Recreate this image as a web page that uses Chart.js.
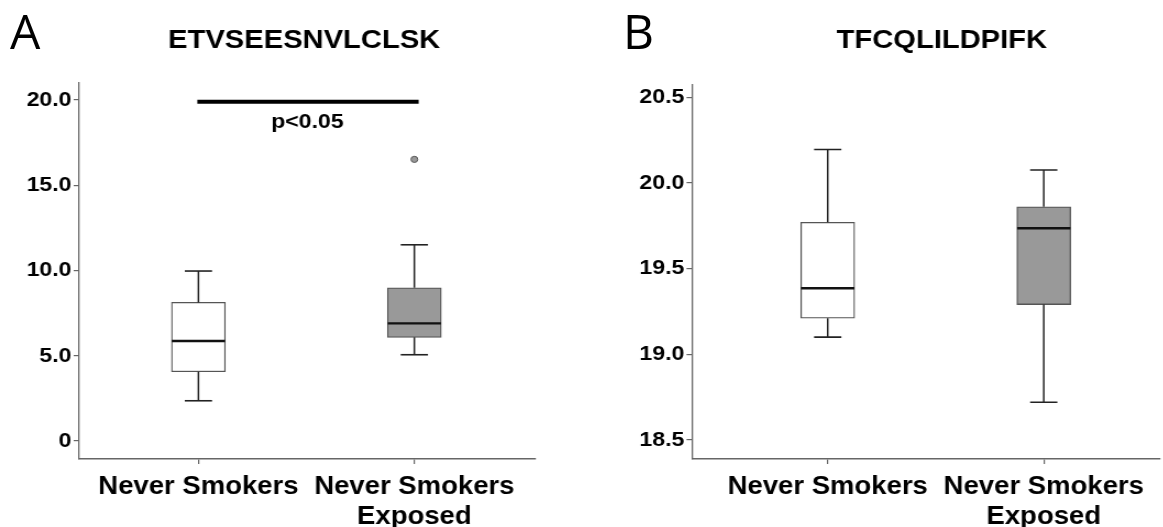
<!DOCTYPE html>
<html>
<head>
<meta charset="utf-8">
<script src="https://cdn.jsdelivr.net/npm/chart.js@4.4.1/dist/chart.umd.min.js"></script>
<style>
  html, body { margin: 0; padding: 0; background: #fff; width: 1163px; height: 527px; overflow: hidden; position: relative; }
  .panel { position: absolute; top: 0; transform-origin: 0 0; transform: scaleX(1.1); }
  .letter { position: absolute; font-family: 'Open Sans', 'Liberation Sans', sans-serif; font-size: 48px; line-height: 48px; color: #000; }
</style>
</head>
<body>
<canvas id="panelA" class="panel" width="553" height="527" style="left:0px"></canvas>
<canvas id="panelB" class="panel" width="567" height="527" style="left:630px"></canvas>
<div class="letter" style="left:10px; top:7px">A</div>
<div class="letter" style="left:623px; top:7px">B</div>
<script>
// Groups on the x axis
const categories = [['Never Smokers'], ['Never Smokers', 'Exposed']];
const categoryPositions = [1, 2];
const boxFills = ['#ffffff', '#999999'];

// ETVSEESNVLCLSK: five-number summaries per group
const etvTitle = 'ETVSEESNVLCLSK';
const etvMin = [2.36, 5.06];
const etvQ1 = [4.06, 6.08];
const etvMedian = [5.87, 6.90];
const etvQ3 = [8.13, 8.99];
const etvMax = [9.97, 11.51];
const etvOutliers = [[], [16.52]];
const etvTicks = [0, 5, 10, 15, 20];
const etvTickLabels = ['0', '5.0', '10.0', '15.0', '20.0'];
const etvSignificanceLevel = 19.9;
const etvSignificanceText = 'p<0.05';

// TFCQLILDPIFK: five-number summaries per group
const tfcTitle = 'TFCQLILDPIFK';
const tfcMin = [19.10, 18.72];
const tfcQ1 = [19.21, 19.29];
const tfcMedian = [19.385, 19.735];
const tfcQ3 = [19.77, 19.86];
const tfcMax = [20.195, 20.075];
const tfcOutliers = [[], []];
const tfcTicks = [18.5, 19.0, 19.5, 20.0, 20.5];
const tfcTickLabels = ['18.5', '19.0', '19.5', '20.0', '20.5'];

const FONT = "'Liberation Sans', Arial, Helvetica, sans-serif";
const AXIS_GREY = '#666666';

Chart.defaults.font.family = FONT;
Chart.defaults.color = '#000';

// Writes the significance label under the bracket
const significanceLabel = {
  id: 'significanceLabel',
  afterDatasetsDraw(chart, args, opts) {
    if (!opts || !opts.text) return;
    const { ctx, scales } = chart;
    ctx.save();
    ctx.font = 'bold 21px ' + FONT;
    ctx.fillStyle = '#000';
    ctx.textAlign = 'center';
    ctx.textBaseline = 'alphabetic';
    ctx.fillText(opts.text, scales.x.getPixelForValue(opts.x), scales.y.getPixelForValue(opts.y));
    ctx.restore();
  }
};

function boxplotDatasets(s) {
  const idx = s.min.map((_, i) => i);
  const pos = i => categoryPositions[i];
  return [
    {
      type: 'bar',
      data: idx.map(i => ({ x: pos(i), y: [s.q1[i], s.q3[i]] })),
      backgroundColor: boxFills,
      borderColor: '#555555',
      borderWidth: 1.3,
      borderSkipped: false,
      barThickness: 49,
      order: 3
    },
    {
      type: 'line',
      data: idx.flatMap(i => [
        { x: pos(i), y: s.q3[i] }, { x: pos(i), y: s.max[i] }, { x: pos(i), y: null },
        { x: pos(i), y: s.q1[i] }, { x: pos(i), y: s.min[i] }, { x: pos(i), y: null }
      ]),
      borderColor: '#222222',
      borderWidth: 1.5,
      pointRadius: 0,
      spanGaps: false,
      order: 2
    },
    {
      type: 'scatter',
      data: idx.flatMap(i => [{ x: pos(i), y: s.max[i] }, { x: pos(i), y: s.min[i] }]),
      pointStyle: 'line',
      pointRadius: 12.4,
      pointBorderWidth: 1.6,
      pointBorderColor: '#222222',
      showLine: false,
      order: 1
    },
    {
      type: 'scatter',
      data: idx.map(i => ({ x: pos(i), y: s.median[i] })),
      pointStyle: 'line',
      pointRadius: 24.2,
      pointBorderWidth: 2.4,
      pointBorderColor: '#111111',
      showLine: false,
      order: 1
    },
    {
      type: 'scatter',
      data: idx.flatMap(i => s.outliers[i].map(v => ({ x: pos(i), y: v }))),
      pointStyle: 'circle',
      pointRadius: 3.1,
      pointBackgroundColor: '#999999',
      pointBorderColor: '#555555',
      pointBorderWidth: 1,
      showLine: false,
      order: 0
    }
  ];
}

function makePanel(id, cfg) {
  const datasets = boxplotDatasets(cfg.stats);
  if (cfg.significance) {
    datasets.push({
      type: 'line',
      data: [{ x: 0.995, y: cfg.significance.level }, { x: 2.02, y: cfg.significance.level }],
      borderColor: '#000',
      borderWidth: 4,
      borderCapStyle: 'butt',
      pointRadius: 0,
      order: 0
    });
  }
  const ticks = cfg.ticks;
  const tickLabels = cfg.tickLabels;
  return new Chart(document.getElementById(id), {
    type: 'bar',
    data: { datasets },
    options: {
      responsive: false,
      animation: false,
      events: [],
      layout: { padding: 0 },
      plugins: {
        legend: { display: false },
        tooltip: { enabled: false },
        title: {
          display: true,
          text: cfg.title,
          color: '#000',
          font: { family: FONT, size: 26.5, weight: 'bold', lineHeight: 1.2 },
          padding: { top: 24.6, bottom: cfg.titleGap }
        },
        significanceLabel: cfg.significance
          ? { text: cfg.significance.text, x: 1.505, y: cfg.significance.labelY }
          : {}
      },
      scales: {
        x: {
          type: 'linear',
          position: 'bottom',
          offset: false,
          min: cfg.xMin,
          max: cfg.xMax,
          afterBuildTicks: sc => { sc.ticks = categoryPositions.map(v => ({ value: v })); },
          afterFit: sc => { sc.height = 68; },
          ticks: {
            callback: (v, i) => categories[i],
            font: { family: FONT, size: 25, weight: 'bold', lineHeight: 1.2 },
            color: '#000',
            padding: 7.7,
            maxRotation: 0,
            minRotation: 0,
            autoSkip: false
          },
          grid: { offset: false, drawOnChartArea: false, drawTicks: true, tickLength: 5, color: AXIS_GREY, lineWidth: 1.2 },
          border: { display: true, color: AXIS_GREY, width: 1.4 }
        },
        y: {
          type: 'linear',
          position: 'left',
          min: cfg.yMin,
          max: cfg.yMax,
          afterBuildTicks: sc => { sc.ticks = ticks.map(v => ({ value: v })); },
          afterFit: sc => { sc.width = cfg.yAxisWidth; },
          ticks: {
            callback: (v, i) => tickLabels[i],
            font: { family: FONT, size: 21, weight: 'bold', lineHeight: 1.2 },
            color: '#000',
            padding: 2,
            autoSkip: false
          },
          grid: { drawOnChartArea: false, drawTicks: true, tickLength: 5, color: AXIS_GREY, lineWidth: 1.2 },
          border: { display: true, color: AXIS_GREY, width: 1.3 }
        },
        rightGutter: {
          type: 'linear',
          position: 'right',
          display: true,
          afterFit: sc => { sc.width = cfg.rightGutter; },
          ticks: { display: false },
          grid: { display: false, drawTicks: false },
          border: { display: false }
        }
      }
    },
    plugins: [significanceLabel]
  });
}

makePanel('panelA', {
  title: etvTitle,
  stats: { min: etvMin, q1: etvQ1, median: etvMedian, q3: etvQ3, max: etvMax, outliers: etvOutliers },
  ticks: etvTicks,
  tickLabels: etvTickLabels,
  significance: { level: etvSignificanceLevel, text: etvSignificanceText, labelY: 18.34 },
  yMin: -1.056, yMax: 21.0,
  xMin: 0.448, xMax: 2.562,
  yAxisWidth: 72,
  rightGutter: 66,
  titleGap: 26.6
});

makePanel('panelB', {
  title: tfcTitle,
  stats: { min: tfcMin, q1: tfcQ1, median: tfcMedian, q3: tfcQ3, max: tfcMax, outliers: tfcOutliers },
  ticks: tfcTicks,
  tickLabels: tfcTickLabels,
  significance: null,
  yMin: 18.389, yMax: 20.571,
  xMin: 0.372, xMax: 2.538,
  yAxisWidth: 56.4,
  rightGutter: 85.2,
  titleGap: 28.6
});
</script>
</body>
</html>
